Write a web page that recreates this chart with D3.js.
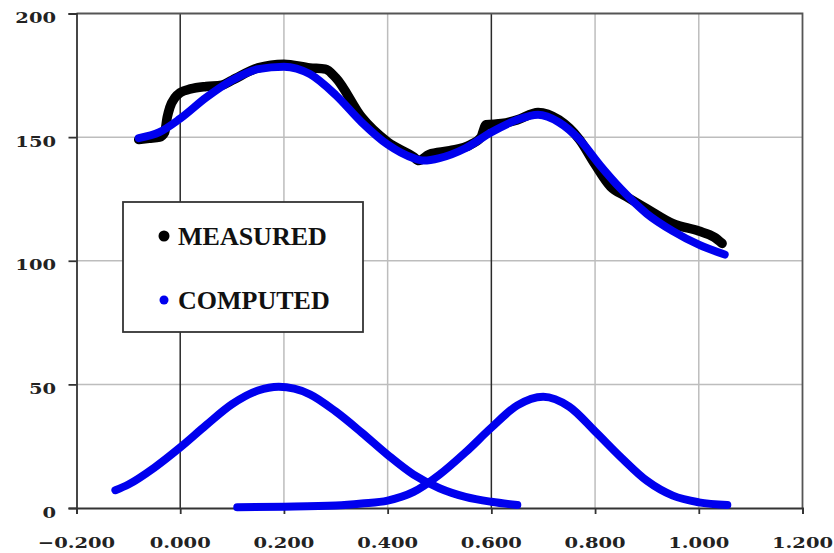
<!DOCTYPE html>
<html>
<head>
<meta charset="utf-8">
<script src="https://cdn.jsdelivr.net/npm/d3@7"></script>
<style>
  html, body { margin: 0; padding: 0; background: #fff; }
  svg { display: block; }
</style>
</head>
<body>
<svg id="chart" width="834" height="553"></svg>
<script>
// Axis ticks
const xTicks = [-0.2, 0.0, 0.2, 0.4, 0.6, 0.8, 1.0, 1.2];
const yTicks = [0, 50, 100, 150, 200];
// Reference lines drawn darker than the grid
const markerLines = [0.0, 0.6];

// Measured spectrum
const measuredX = [-0.08, -0.06, -0.04, -0.03, -0.025, -0.02, -0.01, 0.00, 0.02, 0.05, 0.08, 0.10, 0.15, 0.20, 0.25, 0.28, 0.30, 0.35, 0.40, 0.45, 0.46, 0.48, 0.52, 0.56, 0.58, 0.59, 0.62, 0.65, 0.69, 0.73, 0.77, 0.80, 0.83, 0.86, 0.90, 0.95, 1.00, 1.03, 1.045];
const measuredY = [149, 149.5, 150, 152, 158, 162, 166, 168, 169.5, 170.5, 171, 173, 178, 179.5, 178, 177.5, 174, 158, 148, 142, 140.5, 143, 144.5, 147, 150, 155, 155.5, 157, 160, 157, 149, 139, 130, 126, 121, 115, 112, 109.5, 107];

// Computed fit (sum of components and background)
const computedX = [-0.08, -0.04, 0.00, 0.05, 0.10, 0.15, 0.20, 0.25, 0.30, 0.35, 0.40, 0.45, 0.47, 0.50, 0.55, 0.60, 0.65, 0.69, 0.73, 0.77, 0.81, 0.85, 0.90, 0.95, 1.00, 1.05];
const computedY = [149.6, 152, 157.5, 166, 173, 177.5, 178.5, 175.5, 167, 156, 147, 141.5, 140.5, 141.5, 145.5, 152, 157, 159, 156, 149, 138.5, 129, 119, 112, 106.5, 102.5];

// First component peak
const peak1X = [-0.125, -0.10, -0.05, 0.00, 0.05, 0.10, 0.15, 0.19, 0.25, 0.30, 0.35, 0.40, 0.45, 0.50, 0.55, 0.60, 0.65];
const peak1Y = [7.2, 9.5, 16.3, 24.5, 33.5, 42, 47.5, 49, 46, 39, 30.5, 21.5, 13.5, 8, 4.5, 2.5, 1.2];

// Second component peak
const peak2X = [0.11, 0.20, 0.30, 0.35, 0.40, 0.45, 0.50, 0.55, 0.60, 0.65, 0.70, 0.75, 0.80, 0.85, 0.90, 0.95, 1.00, 1.055];
const peak2Y = [0.3, 0.5, 1.0, 1.8, 3, 6.5, 13.5, 22.5, 32.5, 41.5, 45, 41, 31, 20.5, 11, 5, 2.3, 1.2];

const legendItems = ["MEASURED", "COMPUTED"];
const seriesColors = { measured: "#000000", computed: "#0000ee" };

const svg = d3.select("#chart");
const plotLeft = 76.5, plotRight = 802.5, plotTop = 13.5, plotBottom = 508;

const x = d3.scaleLinear().domain([-0.2, 1.2]).range([plotLeft, plotRight]);
const y = d3.scaleLinear().domain([0, 200]).range([plotBottom, plotTop]);

const tickFont = "'DejaVu Serif', serif";
const labelStretch = 1.3;

// Grid
const grid = svg.append("g");
grid.selectAll("line.h").data(yTicks.filter(v => v > 0 && v < 200)).join("line")
  .attr("x1", plotLeft).attr("x2", plotRight)
  .attr("y1", d => y(d)).attr("y2", d => y(d))
  .attr("stroke", "#bdbdbd").attr("stroke-width", 1.5);
grid.selectAll("line.v").data(xTicks.filter(v => v > -0.2 && v < 1.2 && !markerLines.includes(v))).join("line")
  .attr("x1", d => x(d)).attr("x2", d => x(d))
  .attr("y1", plotTop).attr("y2", plotBottom)
  .attr("stroke", "#bdbdbd").attr("stroke-width", 1.5);
grid.selectAll("line.m").data(markerLines).join("line")
  .attr("x1", d => x(d)).attr("x2", d => x(d))
  .attr("y1", plotTop).attr("y2", plotBottom)
  .attr("stroke", "#2a2a2a").attr("stroke-width", 1.5);

// Frame (top and right)
svg.append("path")
  .attr("d", `M${plotLeft},${y(200)}H${plotRight}V${plotBottom}`)
  .attr("fill", "none").attr("stroke", "#555").attr("stroke-width", 1.8);

// Axes
const xAxis = d3.axisBottom(x).tickValues(xTicks).tickSize(6).tickFormat("");
const yAxis = d3.axisLeft(y).tickValues(yTicks).tickSize(8).tickFormat("");
const gx = svg.append("g").attr("transform", `translate(0,${plotBottom})`).call(xAxis);
const gy = svg.append("g").attr("transform", `translate(${plotLeft},0)`).call(yAxis);
[gx, gy].forEach(g => {
  g.select(".domain").attr("stroke", "#333").attr("stroke-width", 1.8);
  g.selectAll(".tick line").attr("stroke", "#333").attr("stroke-width", 1.8);
});

// Tick labels
svg.append("g").selectAll("g").data(xTicks).join("g")
  .attr("transform", d => `translate(${x(d)},548) scale(${labelStretch},1)`)
  .append("text")
  .attr("text-anchor", "middle")
  .attr("font-family", tickFont).attr("font-weight", "bold").attr("font-size", 15)
  .attr("fill", "#222")
  .text(d => d3.format(".3f")(d));
svg.append("g").selectAll("g").data(yTicks).join("g")
  .attr("transform", d => `translate(56,${y(d) + 9.5}) scale(${labelStretch},1)`)
  .append("text")
  .attr("text-anchor", "end")
  .attr("font-family", tickFont).attr("font-weight", "bold").attr("font-size", 15)
  .attr("fill", "#222")
  .text(d => d);

// Curves
const line = d3.line().x(d => x(d[0])).y(d => y(d[1])).curve(d3.curveMonotoneX);
const zip = (a, b) => a.map((v, i) => [v, b[i]]);

const curves = [
  { pts: zip(measuredX, measuredY), color: seriesColors.measured, w: 9.5 },
  { pts: zip(computedX, computedY), color: seriesColors.computed, w: 8 },
  { pts: zip(peak1X, peak1Y), color: seriesColors.computed, w: 8 },
  { pts: zip(peak2X, peak2Y), color: seriesColors.computed, w: 8 }
];
svg.append("g").selectAll("path").data(curves).join("path")
  .attr("d", d => line(d.pts))
  .attr("fill", "none")
  .attr("stroke", d => d.color)
  .attr("stroke-width", d => d.w)
  .attr("stroke-linecap", "round")
  .attr("stroke-linejoin", "round");

// Legend
const lg = svg.append("g");
lg.append("rect")
  .attr("x", 123).attr("y", 202).attr("width", 240).attr("height", 130)
  .attr("fill", "#fff").attr("stroke", "#333").attr("stroke-width", 1.8);
const rows = lg.selectAll("g").data(legendItems).join("g")
  .attr("transform", (d, i) => `translate(0,${i * 64})`);
rows.append("circle")
  .attr("cx", 164).attr("cy", 236)
  .attr("r", (d, i) => i === 0 ? 5.5 : 4.5)
  .attr("fill", (d, i) => i === 0 ? seriesColors.measured : seriesColors.computed);
rows.append("text")
  .attr("x", 178).attr("y", 245)
  .attr("font-family", "'Liberation Serif', serif")
  .attr("font-weight", "bold").attr("font-size", 26)
  .attr("fill", "#111")
  .text(d => d);
</script>
</body>
</html>
